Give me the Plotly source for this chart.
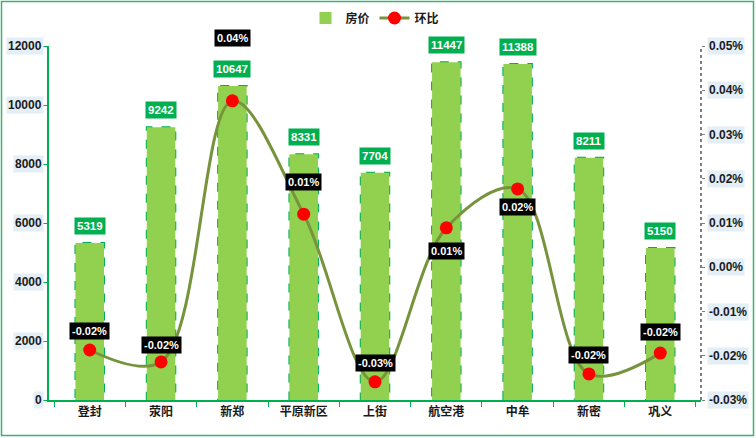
import plotly.graph_objects as go

categories = ["登封", "荥阳", "新郑", "平原新区", "上街", "航空港", "中牟", "新密", "巩义"]
price = [5319, 9242, 10647, 8331, 7704, 11447, 11388, 8211, 5150]
mom = [-0.0187, -0.0214, 0.0376, 0.0120, -0.0259, 0.0089, 0.0177, -0.0241, -0.0194]
mom_labels = ["-0.02%", "-0.02%", "0.04%", "0.01%", "-0.03%", "0.01%", "0.02%", "-0.02%", "-0.02%"]
mom_label_shift = [19, 17, 63, 32, 19, -23, -18, 19, 21]
y_ticks = [0, 2000, 4000, 6000, 8000, 10000, 12000]
y2_ticks = [-0.03, -0.02, -0.01, 0.0, 0.01, 0.02, 0.03, 0.04, 0.05]

FONT = "Liberation Sans, Arial, Noto Sans CJK SC"
W, H = 756, 438
ML, MR, MT, MB = 49, 55, 46, 38
BAR_W = 0.4

fig = go.Figure()
fig.add_trace(go.Bar(
    x=categories, y=price, name="房价",
    marker=dict(color="#92D050", line=dict(color="#00B050", width=0)),
    width=BAR_W,
))
fig.add_trace(go.Scatter(
    x=categories, y=mom, name="环比", yaxis="y2",
    mode="lines+markers",
    line=dict(color="#77933C", width=3, shape="spline", smoothing=1.0),
    marker=dict(color="#FF0000", size=13),
))

# dashed bar outlines
for i, v in enumerate(price):
    fig.add_shape(type="rect", xref="x", yref="y",
                  x0=i - BAR_W / 2, x1=i + BAR_W / 2, y0=0, y1=v,
                  line=dict(color="#00B050", width=2, dash="dash"),
                  layer="below")

# bar value labels
for c, v in zip(categories, price):
    fig.add_annotation(x=c, y=v, xref="x", yref="y", text=f"<b>{v}</b>",
                       showarrow=False, yshift=17, bgcolor="#00B050",
                       font=dict(color="white", size=11.5, family=FONT),
                       borderpad=2)
# line labels
for c, v, t, s in zip(categories, mom, mom_labels, mom_label_shift):
    fig.add_annotation(x=c, y=v, xref="x", yref="y2", text=f"<b>{t}</b>",
                       showarrow=False, yshift=s, bgcolor="#000000",
                       font=dict(color="white", size=11, family=FONT),
                       borderpad=2)

# axis tick labels with light highlight
for t in y_ticks:
    fig.add_annotation(x=0, y=t, xref="paper", yref="y", text=f"<b>{t}</b>",
                       showarrow=False, xanchor="right", xshift=-5, bgcolor="#E3EEF6",
                       font=dict(color="#1a1a1a", size=12, family=FONT), borderpad=1)
for t in y2_ticks:
    fig.add_annotation(x=1, y=t, xref="paper", yref="y2", text=f"<b>{t:.2f}%</b>",
                       showarrow=False, xanchor="left", xshift=6, bgcolor="#E3EEF6",
                       font=dict(color="#1a1a1a", size=12, family=FONT), borderpad=1)

# dotted right axis line
fig.add_shape(type="line", xref="paper", yref="paper", x0=1, x1=1, y0=0, y1=1,
              line=dict(color="#7F7F7F", width=2, dash="dot"))

pw = W - ML - MR
ph = H - MT - MB
fig.add_shape(type="rect", xref="paper", yref="paper",
              x0=-(ML - 1.5) / pw, x1=1 + (MR - 2.5) / pw,
              y0=-(MB - 2.5) / ph, y1=1 + (MT - 1.5) / ph,
              line=dict(color="#3CB371", width=1.5), layer="below")

fig.update_layout(
    width=W, height=H,
    margin=dict(l=ML, r=MR, t=MT, b=MB, autoexpand=False),
    paper_bgcolor="white", plot_bgcolor="white",
    font=dict(family=FONT, size=11, color="#1a1a1a"),
    showlegend=True,
    legend=dict(orientation="h", x=0.5, xanchor="center", y=1 + 28 / ph, yanchor="middle",
                font=dict(size=12, family=FONT, color="#1a1a1a", weight="bold"),
                bgcolor="rgba(0,0,0,0)"),
    xaxis=dict(showline=True, linecolor="#00B050", linewidth=2,
               ticks="outside", tickson="boundaries", tickcolor="#00B050", ticklen=5,
               tickfont=dict(size=12, family="Noto Sans CJK SC", color="#1a1a1a", weight="bold"),
               showgrid=False),
    yaxis=dict(range=[0, 12000], tickvals=y_ticks, showticklabels=False,
               showline=True, linecolor="#00B050", linewidth=2,
               ticks="outside", tickcolor="#00B050", ticklen=4, showgrid=False, zeroline=False),
    yaxis2=dict(range=[-0.03, 0.05], tickvals=y2_ticks, overlaying="y", side="right",
                showticklabels=False, showline=False,
                ticks="outside", tickcolor="#7F7F7F", ticklen=3, showgrid=False, zeroline=False),
)

fig.write_html("out.html", config={"displayModeBar": False},
               post_script="document.body.style.margin='0px';document.body.style.overflow='hidden';")
